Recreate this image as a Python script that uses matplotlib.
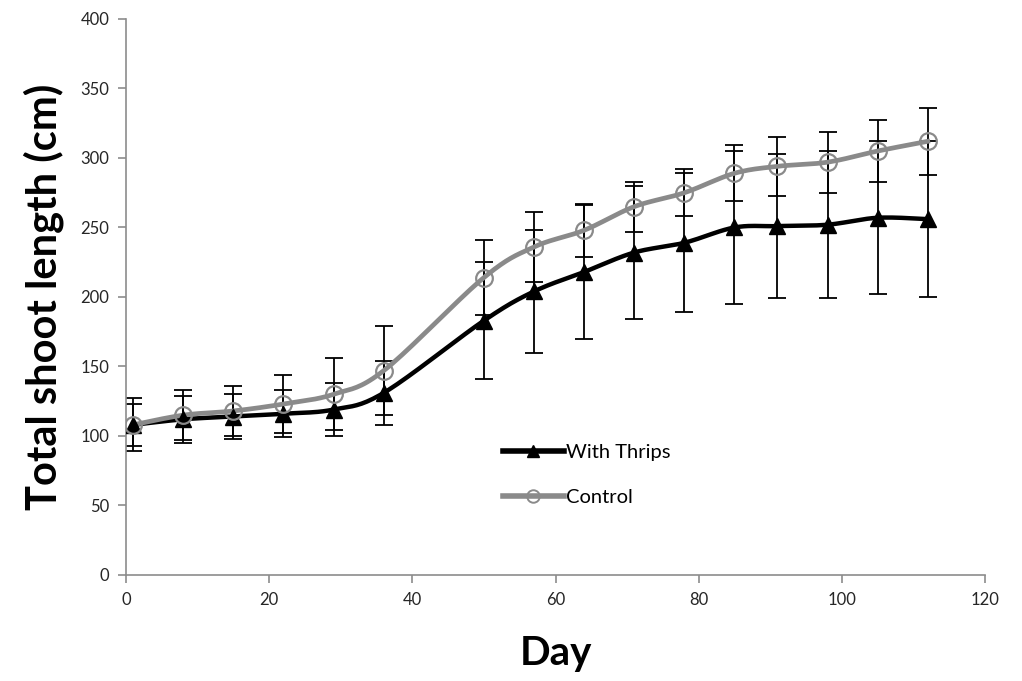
import numpy as np
import matplotlib.pyplot as plt

days = [1, 8, 15, 22, 29, 36, 50, 57, 64, 71, 78, 85, 91, 98, 105, 112]

thrips = [108, 112, 114, 116, 119, 131, 183, 204, 218, 232, 239, 250, 251, 252, 257, 256]
thrips_err = [15, 17, 16, 17, 19, 23, 42, 44, 48, 48, 50, 55, 52, 53, 55, 56]

control = [108, 115, 118, 123, 130, 147, 214, 236, 248, 265, 275, 289, 294, 297, 305, 312]
control_err = [19, 18, 18, 21, 26, 32, 27, 25, 19, 18, 17, 20, 21, 22, 22, 24]


def smooth(x, y, n=20):
    # excel style smoothed line: bezier through points, catmull-rom control points
    x = np.asarray(x, float)
    y = np.asarray(y, float)
    px = np.concatenate([[x[0]], x, [x[-1]]])
    py = np.concatenate([[y[0]], y, [y[-1]]])
    xs, ys = [], []
    t = np.linspace(0, 1, n)
    for i in range(1, len(px) - 2):
        p0 = np.array([px[i], py[i]])
        p3 = np.array([px[i + 1], py[i + 1]])
        p1 = p0 + (np.array([px[i + 1], py[i + 1]]) - np.array([px[i - 1], py[i - 1]])) / 6
        p2 = p3 - (np.array([px[i + 2], py[i + 2]]) - np.array([px[i], py[i]])) / 6
        b = ((1 - t) ** 3)[:, None] * p0 + (3 * (1 - t) ** 2 * t)[:, None] * p1 \
            + (3 * (1 - t) * t ** 2)[:, None] * p2 + (t ** 3)[:, None] * p3
        xs.extend(b[:, 0])
        ys.extend(b[:, 1])
    return xs, ys


plt.rcParams['font.family'] = ['Lato', 'DejaVu Sans']

fig = plt.figure(figsize=(10.22, 6.81), dpi=100)
ax = fig.add_axes([0.1233, 0.1557, 0.8405, 0.8164])

gray = '#8a8a8a'

ax.errorbar(days, thrips, yerr=thrips_err, fmt='none', ecolor='black',
            elinewidth=1.3, capsize=6.5, capthick=1.3, zorder=2)
ax.errorbar(days, control, yerr=control_err, fmt='none', ecolor='black',
            elinewidth=1.3, capsize=6.5, capthick=1.3, zorder=2)

sx, sy = smooth(days, thrips)
ax.plot(sx, sy, color='black', lw=3.2, zorder=3)
sx, sy = smooth(days, control)
ax.plot(sx, sy, color=gray, lw=3.4, zorder=3)

ax.plot(days, thrips, ls='none', marker='^', ms=11, color='black', zorder=4)
ax.plot(days, control, ls='none', marker='o', ms=12, mfc='none', mec=gray,
        mew=1.6, zorder=5)

h1 = plt.Line2D([], [], color='black', lw=4, marker='^', ms=8)
h2 = plt.Line2D([], [], color=gray, lw=4, marker='o', ms=9, mfc='none', mec=gray, mew=1.4)
ax.legend([h1, h2], ['With Thrips', 'Control'], loc='upper left',
          bbox_to_anchor=(0.432, 0.247), frameon=False, fontsize=14.5,
          handlelength=3.0, handletextpad=0.1, labelspacing=1.4,
          borderaxespad=0, borderpad=0.3)

ax.set_xlim(0, 120)
ax.set_ylim(0, 400)
ax.set_xticks(range(0, 121, 20))
ax.set_yticks(range(0, 401, 50))

for s in ['top', 'right']:
    ax.spines[s].set_visible(False)
for s in ['left', 'bottom']:
    ax.spines[s].set_color('#8c8c8c')
    ax.spines[s].set_linewidth(1.2)
ax.tick_params(direction='out', length=6, width=1.2, color='#8c8c8c',
               labelsize=12, labelcolor='#262626', pad=6)

ax.set_xlabel('Day', fontsize=29, fontweight='bold', labelpad=20)
ax.set_ylabel('Total shoot length (cm)', fontsize=30, fontweight='bold', labelpad=12)

fig.savefig('out.png', dpi=100)
